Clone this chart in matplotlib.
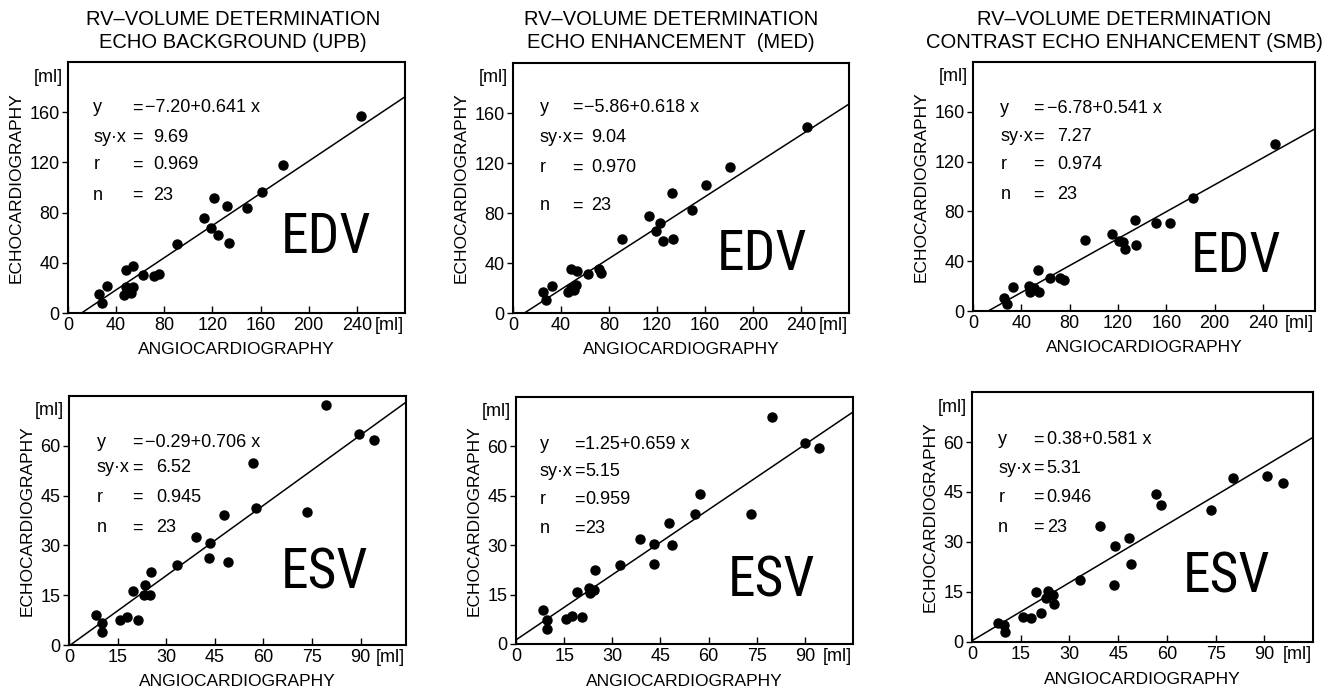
import matplotlib
matplotlib.use('Agg')
import matplotlib.pyplot as plt
import numpy as np

plt.rcParams['font.family'] = ['Liberation Sans', 'DejaVu Sans']

# ---- data (ml) ----
# EDV, echo background (UPB)
edv_upb_angio = [243.6, 178.8, 161.4, 149.0, 132.4, 121.4, 113.1, 119.2, 125.0, 133.8, 90.5, 75.3,
                 71.7, 62.6, 54.3, 48.3, 53.8, 48.3, 52.4, 46.9, 32.6, 25.4, 28.1]
edv_upb_echo = [156.8, 118.1, 96.5, 84.0, 85.3, 91.5, 76.0, 67.5, 61.9, 55.5, 54.7, 30.7,
                29.3, 30.1, 37.3, 34.1, 20.8, 20.8, 16.0, 14.1, 21.9, 14.9, 8.0]
# EDV, echo enhancement (MED)
edv_med_angio = [245.0, 180.5, 161.1, 149.2, 132.9, 133.4, 124.6, 122.4, 119.0, 113.2, 90.5, 73.4,
                 71.7, 62.3, 53.1, 48.2, 52.6, 51.2, 46.2, 32.7, 24.6, 27.7, 48.2]
edv_med_echo = [148.5, 116.5, 102.1, 82.1, 95.7, 59.2, 57.3, 72.0, 65.9, 77.3, 59.5, 32.0,
                35.5, 31.2, 33.9, 35.2, 22.1, 18.1, 16.5, 21.3, 16.8, 10.1, 20.0]
# EDV, contrast echo enhancement (SMB)
edv_smb_angio = [249.7, 182.0, 163.3, 151.4, 134.3, 135.2, 126.0, 124.1, 121.1, 115.0, 93.0, 75.0,
                 71.7, 63.4, 53.5, 50.8, 54.9, 46.9, 46.1, 33.1, 25.4, 28.1, 48.8]
edv_smb_echo = [133.9, 90.7, 70.7, 70.7, 73.3, 53.1, 49.9, 55.2, 56.5, 61.9, 57.1, 25.1,
                26.4, 26.4, 33.1, 18.4, 14.9, 14.9, 19.7, 19.2, 10.4, 5.9, 17.9]
# ESV, echo background (UPB)
esv_upb_angio = [79.3, 89.4, 94.0, 56.7, 57.7, 73.3, 47.8, 39.2, 43.6, 43.1, 49.1, 33.3,
                 25.4, 19.7, 23.3, 23.0, 25.0, 21.3, 17.9, 15.6, 8.2, 10.2, 10.3]
esv_upb_echo = [72.2, 63.5, 61.6, 54.7, 41.3, 40.1, 39.2, 32.6, 30.7, 26.2, 25.0, 24.1,
                22.1, 16.4, 18.0, 15.2, 15.0, 7.6, 8.3, 7.6, 9.1, 6.6, 4.0]
# ESV, echo enhancement (MED)
esv_med_angio = [79.8, 90.2, 94.3, 57.4, 55.8, 73.3, 47.6, 48.6, 42.9, 42.9, 38.5, 32.3,
                 24.5, 24.2, 22.7, 23.2, 19.1, 20.7, 17.5, 15.5, 8.3, 9.7, 9.8]
esv_med_echo = [68.9, 61.0, 59.6, 45.5, 39.5, 39.5, 36.6, 30.0, 30.5, 24.3, 32.0, 24.1,
                22.6, 16.3, 17.0, 15.5, 15.8, 8.1, 8.5, 7.6, 10.4, 7.3, 4.6]
# ESV, contrast echo enhancement (SMB)
esv_smb_angio = [90.9, 95.7, 80.4, 73.7, 56.8, 58.3, 39.5, 43.9, 48.4, 49.1, 43.6, 33.2,
                 19.7, 23.3, 24.8, 22.9, 25.4, 21.3, 18.2, 15.7, 7.9, 9.8, 10.3]
esv_smb_echo = [49.8, 47.7, 49.2, 39.5, 44.5, 41.0, 34.8, 28.9, 31.3, 23.3, 17.2, 18.5,
                15.0, 15.3, 14.0, 13.3, 11.3, 8.7, 7.2, 7.5, 5.8, 5.0, 3.0]

# regression results printed in each panel
intercepts = [-7.20, -5.86, -6.78, -0.29, 1.25, 0.38]
slopes = [0.641, 0.618, 0.541, 0.706, 0.659, 0.581]
syx_values = ['9.69', '9.04', '7.27', '6.52', '5.15', '5.31']
r_values = ['0.969', '0.970', '0.974', '0.945', '0.959', '0.946']
n_values = ['23', '23', '23', '23', '23', '23']
volume_labels = ['EDV', 'EDV', 'EDV', 'ESV', 'ESV', 'ESV']
titles = ['RV\u2013VOLUME DETERMINATION\nECHO BACKGROUND (UPB)',
          'RV\u2013VOLUME DETERMINATION\nECHO ENHANCEMENT  (MED)',
          'RV\u2013VOLUME DETERMINATION\nCONTRAST ECHO ENHANCEMENT (SMB)']
edv_ticks = [0, 40, 80, 120, 160, 200, 240]
edv_yticks = [0, 40, 80, 120, 160]
esv_ticks = [0, 15, 30, 45, 60, 75, 90]
esv_yticks = [0, 15, 30, 45, 60]

xs = [edv_upb_angio, edv_med_angio, edv_smb_angio, esv_upb_angio, esv_med_angio, esv_smb_angio]
ys = [edv_upb_echo, edv_med_echo, edv_smb_echo, esv_upb_echo, esv_med_echo, esv_smb_echo]

# ---- layout (pixels -> figure fractions) ----
W, H = 1323, 691
boxes_px = [(68, 62, 405, 313), (513, 63, 849, 313), (973, 62, 1315, 311),
            (69, 396, 406, 645), (516, 397, 853, 644), (972, 392, 1313, 642)]
xlims = [280, 280, 283, 104, 105, 105]
ylims = [200, 200, 200, 75, 75, 75]
# stats block: label x, "=" x, first value x, other values x, line y's (axes fraction)
stat_x = [(0.075, 0.189, 0.229, 0.253), (0.079, 0.175, 0.212, 0.232), (0.08, 0.177, 0.215, 0.245),
          (0.082, 0.186, 0.225, 0.26), (0.071, 0.172, 0.205, 0.205), (0.077, 0.178, 0.219, 0.219)]
stat_y = [(0.817, 0.701, 0.59, 0.47), (0.824, 0.704, 0.58, 0.428), (0.815, 0.699, 0.59, 0.466),
          (0.815, 0.711, 0.594, 0.47), (0.806, 0.70, 0.583, 0.466), (0.808, 0.696, 0.58, 0.46)]
big_pos = [(0.766, 0.30), (0.742, 0.236), (0.77, 0.217), (0.757, 0.289), (0.758, 0.255), (0.745, 0.26)]
title_x = [233, 671, 1124]

fig = plt.figure(figsize=(W / 100, H / 100), dpi=100)

for i in range(6):
    l, t, r, b = boxes_px[i]
    ax = fig.add_axes([l / W, 1 - b / H, (r - l) / W, (b - t) / H])
    ax.plot(xs[i], ys[i], 'o', color='black', markersize=6.5, zorder=3)

    # regression line
    a, k = intercepts[i], slopes[i]
    x0 = max(0.0, -a / k)
    xl = np.array([x0, xlims[i]])
    ax.plot(xl, a + k * xl, color='black', lw=1.1)

    ax.set_xlim(0, xlims[i])
    ax.set_ylim(0, ylims[i])
    if i < 3:
        ax.set_xticks(edv_ticks)
        ax.set_yticks(edv_yticks)
    else:
        ax.set_xticks(esv_ticks)
        ax.set_yticks(esv_yticks)
    ax.tick_params(axis='x', direction='in', length=5, width=1, labelsize=13, pad=3)
    ax.tick_params(axis='y', direction='out', length=4, width=1, labelsize=13, pad=2)
    for s in ax.spines.values():
        s.set_linewidth(1.5)

    ax.set_xlabel('ANGIOCARDIOGRAPHY', fontsize=12.5, labelpad=6)
    ax.set_ylabel('ECHOCARDIOGRAPHY', fontsize=12.5, labelpad=4)

    # units
    ax.text(-0.015, 0.94, '[ml]', transform=ax.transAxes, ha='right', va='center', fontsize=13)
    ax.annotate('[ml]', xy=(1, 0), xycoords='axes fraction', xytext=(-1, -3),
                textcoords='offset points', ha='right', va='top', fontsize=13)

    # stats block
    sx = stat_x[i]
    sy = stat_y[i]
    val1 = ('\u2212' if a < 0 else '') + f'{abs(a):.2f}+{k:.3f} x'
    labels = ['y', 'sy\u00b7x', 'r', 'n']
    vals = [val1, syx_values[i], r_values[i], n_values[i]]
    for j in range(4):
        ax.text(sx[0], sy[j], labels[j], transform=ax.transAxes, ha='left', va='center', fontsize=13)
        ax.text(sx[1], sy[j], '=', transform=ax.transAxes, ha='left', va='center', fontsize=13)
        ax.text(sx[2] if j == 0 else sx[3], sy[j], vals[j], transform=ax.transAxes,
                ha='left', va='center', fontsize=13)

    ax.text(big_pos[i][0], big_pos[i][1], volume_labels[i], transform=ax.transAxes,
            ha='center', va='center', fontsize=40,
            family=['Roboto Condensed', 'Roboto', 'Liberation Sans'])

for c in range(3):
    fig.text(title_x[c] / W, 1 - 31 / H, titles[c], ha='center', va='center',
             fontsize=14.5, linespacing=1.25)

fig.savefig('out.png', dpi=100)
